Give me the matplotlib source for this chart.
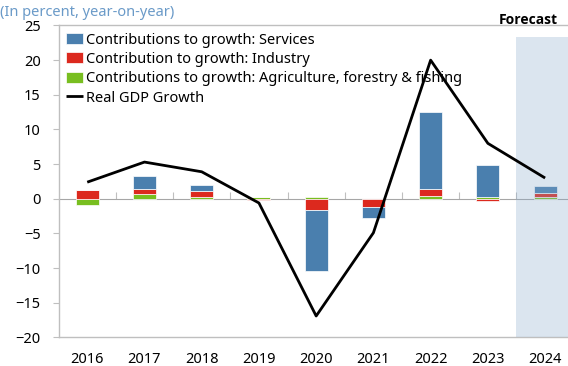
import matplotlib
matplotlib.use("Agg")
import matplotlib.pyplot as plt
import numpy as np

plt.rcParams['font.family'] = ['Noto Sans', 'DejaVu Sans']

years = ["2016", "2017", "2018", "2019", "2020", "2021", "2022", "2023", "2024"]
services = [0.0, 1.9, 0.9, 0.0, -8.8, -1.65, 11.1, 4.7, 1.05]
industry = [1.2, 0.65, 0.8, -0.2, -1.6, -1.15, 1.0, -0.3, 0.55]
agriculture = [-0.85, 0.75, 0.3, 0.3, 0.25, 0.0, 0.4, 0.2, 0.3]
gdp_growth = [2.4, 5.3, 3.9, -0.6, -16.9, -4.9, 20.0, 8.0, 3.0]

series = [
    ("Contributions to growth: Agriculture, forestry & fishing", agriculture, "#78BE20"),
    ("Contribution to growth: Industry", industry, "#DC291E"),
    ("Contributions to growth: Services", services, "#4A7FAE"),
]

grey = "#BFBFBF"
fig = plt.figure(figsize=(5.68, 3.66), dpi=100)
ax = fig.add_axes([0.1032, 0.0779, 1 - 0.1032, 0.8525])

x = np.arange(len(years))
ymin, ymax = -20, 25
pos_base = np.zeros(len(years))
neg_base = np.zeros(len(years))
handles = {}
for label, vals, color in series:
    v = np.array(vals, dtype=float)
    base = np.where(v >= 0, pos_base, neg_base)
    bars = ax.bar(x, v, 0.4, bottom=base, color=color, edgecolor="white",
                  linewidth=0.5, zorder=2, label=label)
    handles[label] = bars
    pos_base += np.where(v >= 0, v, 0)
    neg_base += np.where(v < 0, v, 0)

line, = ax.plot(x, gdp_growth, color="black", lw=2.0, zorder=5,
                label="Real GDP Growth", solid_capstyle="butt")

# forecast band
ax.axvspan(7.5, 8.4, ymin=0, ymax=(23.3 - ymin) / (ymax - ymin),
           color=(138 / 255, 172 / 255, 205 / 255), alpha=0.3, lw=0, zorder=4)
fig.text(558 / 568, 1 - 20 / 366, "Forecast", ha="right", va="center",
         fontsize=10, fontweight="bold", family=["Open Sans", "DejaVu Sans"])

ax.set_xlim(-0.5, 8.4)
ax.set_ylim(ymin, ymax)
ax.set_yticks(np.arange(-20, 26, 5))
ax.set_xticks(x)
ax.set_xticklabels(years)
ax.tick_params(axis="x", length=0, pad=10.5, labelsize=10.5, colors="#000000")
ax.tick_params(axis="y", length=4, pad=9, labelsize=10.5, color=grey)

for s in ["left", "top", "bottom"]:
    ax.spines[s].set_color(grey)
    ax.spines[s].set_linewidth(1.0)
ax.spines["right"].set_visible(False)

# zero line with category dividers
sec = ax.secondary_xaxis((0 - ymin) / (ymax - ymin))
sec.set_xticks(np.arange(0.5, 8, 1.0))
sec.tick_params(direction="in", length=5, color=grey, labelbottom=False, labeltop=False)
for s in sec.spines.values():
    s.set_color("#A6A6A6")

fig.text(0.0, 1 - 12 / 366, "(In percent, year-on-year)", ha="left", va="center",
         fontsize=10.5, color="#6A9AC8")

order = ["Contributions to growth: Services", "Contribution to growth: Industry",
         "Contributions to growth: Agriculture, forestry & fishing"]
leg = ax.legend([handles[k] for k in order] + [line], order + ["Real GDP Growth"],
                loc="upper left", bbox_to_anchor=(-0.006, 1.01), frameon=False,
                fontsize=10.5, handlelength=1.2, handleheight=0.8,
                handletextpad=0.2, labelspacing=0.3, borderaxespad=0.3)

fig.savefig("out.png", dpi=100)
